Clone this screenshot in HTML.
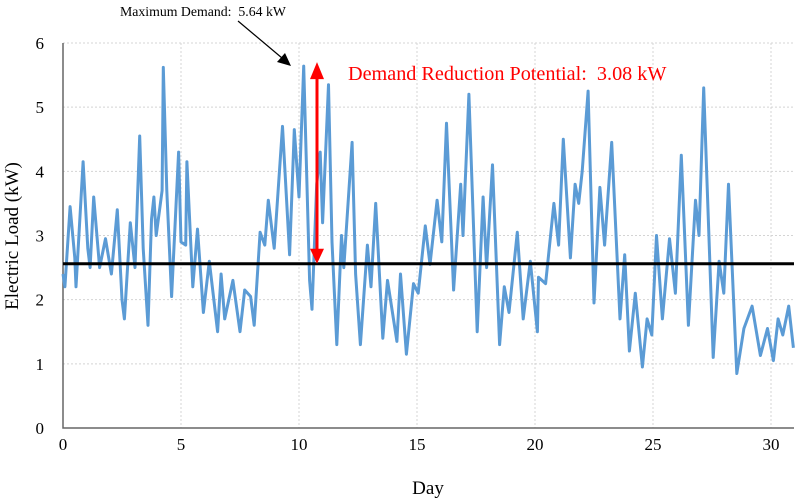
<!DOCTYPE html>
<html><head><meta charset="utf-8"><style>
body{margin:0;background:#fff;}
svg{display:block;font-family:"Liberation Serif",serif;}
</style></head><body>
<svg id="chart" width="797" height="501" viewBox="0 0 797 501">
<g id="grid"></g>
<g id="axes"></g>
<g id="series"></g>
<text x="18" y="236" font-size="19" text-anchor="middle" transform="rotate(-90 18 236)">Electric Load (kW)</text>
<text x="428" y="494" font-size="19" text-anchor="middle">Day</text>
<text x="120" y="16" font-size="13.8">Maximum Demand:&#160; 5.64 kW</text>
<line x1="238" y1="21" x2="282" y2="58" stroke="#000" stroke-width="1.2"/>
<polygon points="291,66 277,62 285,53" fill="#000"/>
<g id="reduction"></g>
<text x="348" y="80" font-size="20.2" fill="#ff0000">Demand Reduction Potential:&#160; 3.08 kW</text>
</svg>
<script>
const days=[0,0.08,0.3,0.5,0.55,0.85,1.05,1.15,1.3,1.55,1.8,2.05,2.3,2.5,2.6,2.85,3.05,3.25,3.4,3.6,3.75,3.85,3.95,4.2,4.25,4.4,4.6,4.9,5.0,5.2,5.25,5.5,5.7,5.95,6.2,6.55,6.7,6.85,7.2,7.5,7.7,7.95,8.1,8.35,8.55,8.7,8.95,9.3,9.6,9.8,10.0,10.2,10.45,10.55,10.75,10.9,11.0,11.25,11.4,11.6,11.8,11.9,12.25,12.4,12.6,12.9,13.05,13.25,13.55,13.75,14.15,14.3,14.55,14.85,15.05,15.35,15.55,15.85,16.05,16.25,16.55,16.85,16.95,17.2,17.55,17.8,17.95,18.2,18.5,18.7,18.9,19.25,19.5,19.8,20.1,20.15,20.45,20.8,21.0,21.2,21.5,21.7,21.85,22.0,22.25,22.5,22.75,22.95,23.25,23.6,23.8,24.0,24.25,24.55,24.75,24.95,25.15,25.4,25.7,25.95,26.2,26.5,26.8,26.95,27.15,27.55,27.8,28.0,28.2,28.55,28.85,29.2,29.55,29.85,30.1,30.3,30.5,30.75,30.95];
const load=[2.4,2.2,3.45,2.65,2.2,4.15,2.8,2.5,3.6,2.5,2.95,2.4,3.4,2.0,1.7,3.2,2.5,4.55,2.8,1.6,3.25,3.6,3.0,3.7,5.62,3.7,2.05,4.3,2.9,2.85,4.15,2.2,3.1,1.8,2.6,1.5,2.4,1.7,2.3,1.5,2.15,2.05,1.6,3.05,2.85,3.55,2.8,4.7,2.7,4.65,3.6,5.64,2.3,1.85,3.8,4.3,3.2,5.35,2.9,1.3,3.0,2.5,4.45,2.4,1.3,2.85,2.2,3.5,1.4,2.3,1.35,2.4,1.15,2.25,2.1,3.15,2.55,3.55,2.9,4.75,2.15,3.8,3.0,5.2,1.5,3.6,2.5,4.1,1.3,2.2,1.8,3.05,1.7,2.6,1.5,2.35,2.25,3.5,2.85,4.5,2.65,3.8,3.5,4.0,5.25,1.95,3.75,2.85,4.45,1.7,2.7,1.2,2.1,0.95,1.7,1.45,3.0,1.7,2.95,2.1,4.25,1.6,3.55,3.0,5.3,1.1,2.6,2.1,3.8,0.85,1.55,1.9,1.13,1.55,1.05,1.7,1.45,1.9,1.25];
const xTicks=[0,5,10,15,20,25,30];
const yTicks=[0,1,2,3,4,5,6];
const threshold=[2.56];
const peak=[5.64];
const NS="http://www.w3.org/2000/svg";
const X=d=>63+d*23.6;
const Y=v=>428-v*64.17;
function el(t,a,p){const e=document.createElementNS(NS,t);for(const k in a)e.setAttribute(k,a[k]);document.getElementById(p).appendChild(e);return e;}
xTicks.forEach(d=>{
 if(d>0){const g=el('line',{x1:X(d),x2:X(d),y1:43,y2:428,stroke:'#d4d4d4','stroke-dasharray':'2,2'},'grid');
 
 }
 const t=el('text',{x:X(d),y:450,'font-size':17,'text-anchor':'middle'},'axes');t.textContent=d;
 
 
});
yTicks.forEach(v=>{
 if(v>0){const g=el('line',{x1:63,x2:794,y1:Y(v),y2:Y(v),stroke:'#d4d4d4','stroke-dasharray':'2,2'},'grid');
 
 }
 const t=el('text',{x:44,y:Y(v)+6,'font-size':17,'text-anchor':'end'},'axes');t.textContent=v;
 
 
});
const ax=el('path',{d:`M63,43V428H794`,fill:'none',stroke:'#666','stroke-width':1.5},'axes');


const pts=days.map((d,i)=>X(d).toFixed(1)+','+Y(load[i]).toFixed(1)).join(' ');
const line=el('polyline',{points:pts,fill:'none',stroke:'#5b9bd5','stroke-width':3,'stroke-linejoin':'round'},'series');


const th=el('line',{x1:63,x2:794,y1:Y(threshold[0]),y2:Y(threshold[0]),stroke:'#000','stroke-width':3},'series');


const ay1=Y(peak[0]),ay2=Y(threshold[0]),axp=317;
const rl=el('line',{x1:axp,x2:axp,y1:ay1+10,y2:ay2-10,stroke:'#ff0000','stroke-width':3},'reduction');


const h1=el('polygon',{points:`${axp},${ay1-4} ${axp-7},${ay1+13} ${axp+7},${ay1+13}`,fill:'#ff0000'},'reduction');


const h2=el('polygon',{points:`${axp},${ay2} ${axp-7},${ay2-15} ${axp+7},${ay2-15}`,fill:'#ff0000'},'reduction');


</script>
</body></html>
